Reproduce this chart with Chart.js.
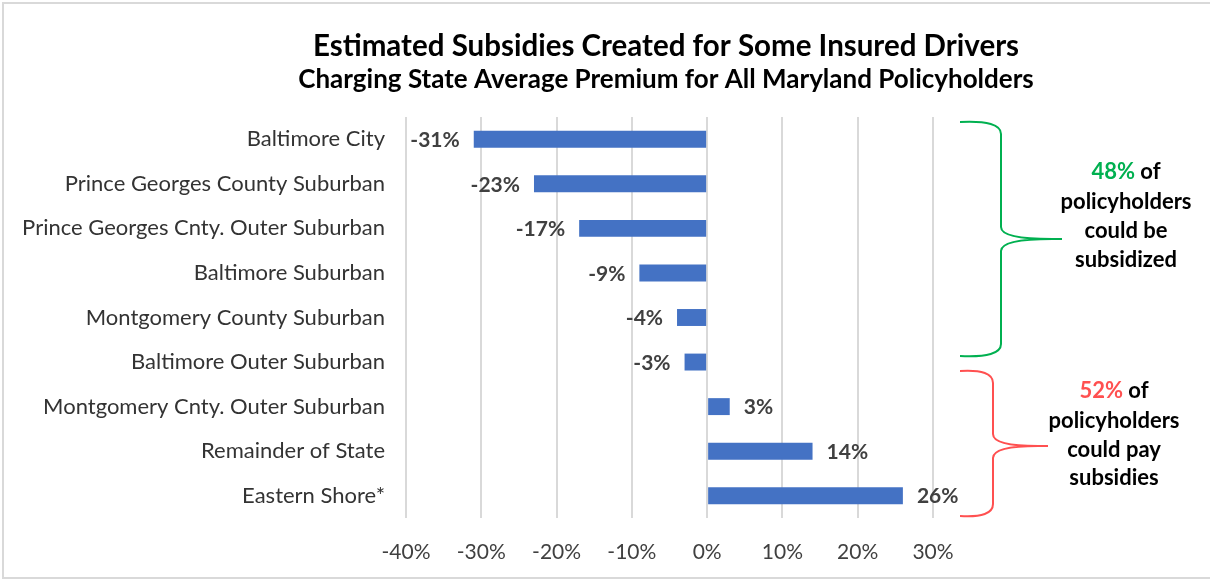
<html>
<head>
  <meta charset="utf-8">
  <title>Estimated Subsidies</title>
  <script src="https://cdn.jsdelivr.net/npm/chart.js@4.4.1/dist/chart.umd.min.js"></script>
  <style>
    body { margin: 0; background: #fff; }
    #wrap { width: 1210px; height: 580px; position: relative; }
  </style>
</head>
<body>
<div id="wrap"><canvas id="myChart" width="1210" height="580"></canvas></div>

<script>
  // data
  var regions = [
    "Baltimore City",
    "Prince Georges County Suburban",
    "Prince Georges Cnty. Outer Suburban",
    "Baltimore Suburban",
    "Montgomery County Suburban",
    "Baltimore Outer Suburban",
    "Montgomery Cnty. Outer Suburban",
    "Remainder of State",
    "Eastern Shore*"
  ];
  var subsidyPct = [-31, -23, -17, -9, -4, -3, 3, 14, 26];

  var titleText = "Estimated Subsidies Created for Some Insured Drivers";
  var subtitleText = "Charging State Average Premium for All Maryland Policyholders";
  var greenNote = ["48%", " of", "policyholders", "could be", "subsidized"];
  var redNote = ["52%", " of", "policyholders", "could pay", "subsidies"];

  var FONT = "Lato, 'Open Sans', sans-serif";

  // title, value labels, braces and side notes
  var extras = {
    id: 'extras',
    afterDatasetsDraw: function (chart) {
      var c = chart.ctx;
      var meta = chart.getDatasetMeta(0);
      c.save();

      // value labels
      c.font = "bold 21px " + FONT;
      c.fillStyle = "#404040";
      c.textBaseline = "middle";
      meta.data.forEach(function (bar, i) {
        var v = subsidyPct[i];
        if (v < 0) {
          c.textAlign = "right";
          c.fillText(v + "%", bar.x - 14, bar.y + 1);
        } else {
          c.textAlign = "left";
          c.fillText(v + "%", bar.x + 14, bar.y + 1);
        }
      });

      // titles
      c.fillStyle = "#000";
      c.textAlign = "center";
      c.font = "bold 29.5px " + FONT;
      c.fillText(titleText, 666, 46);
      c.font = "bold 26px " + FONT;
      c.fillText(subtitleText, 666, 80);

      // braces
      function brace(x0, spine, tip, top, mid, bottom, color) {
        var r = 12;
        c.strokeStyle = color;
        c.lineWidth = 2;
        c.beginPath();
        c.moveTo(x0, top);
        c.quadraticCurveTo(spine, top - 2, spine, top + r);
        c.lineTo(spine, mid - r);
        c.quadraticCurveTo(spine, mid, tip - 10, mid);
        c.lineTo(tip, mid);
        c.moveTo(tip - 10, mid);
        c.quadraticCurveTo(spine, mid, spine, mid + r);
        c.lineTo(spine, bottom - r);
        c.quadraticCurveTo(spine, bottom + 2, x0, bottom);
        c.stroke();
      }
      brace(960, 1001, 1062, 122, 239, 356, "#00B050");
      brace(960, 993, 1048, 371, 446, 516, "#FF5050");

      // notes
      function note(lines, cx, ys, color) {
        c.font = "bold 22px " + FONT;
        var w1 = c.measureText(lines[0]).width;
        var w2 = c.measureText(lines[1]).width;
        var start = cx - (w1 + w2) / 2;
        c.textAlign = "left";
        c.fillStyle = color;
        c.fillText(lines[0], start, ys[0]);
        c.fillStyle = "#000";
        c.fillText(lines[1], start + w1, ys[0]);
        c.textAlign = "center";
        for (var k = 2; k < lines.length; k++) {
          c.fillText(lines[k], cx, ys[k - 1]);
        }
      }
      note(greenNote, 1126, [172, 202, 231, 260], "#00B050");
      note(redNote, 1114, [391, 421, 450, 478], "#FF5050");

      // outer frame
      c.strokeStyle = "#d9d9d9";
      c.lineWidth = 2;
      c.strokeRect(3, 3, 1220, 575);
      c.restore();
    }
  };

  var ctx = document.getElementById('myChart').getContext('2d');
  var chart = new Chart(ctx, {
    type: "bar",
    data: {
      labels: regions,
      datasets: [
        {
          data: subsidyPct,
          backgroundColor: "#4472C4",
          borderWidth: 0,
          barPercentage: 0.38,
          categoryPercentage: 1
        }
      ]
    },
    options: {
      indexAxis: 'y',
      responsive: false,
      animation: false,
      layout: { padding: { left: 0, right: 277, top: 117, bottom: 0 } },
      plugins: {
        legend: { display: false },
        tooltip: { enabled: false }
      },
      scales: {
        x: {
          min: -40,
          max: 30,
          border: { display: false },
          grid: { color: "#d9d9d9", lineWidth: 2, drawTicks: false },
          ticks: {
            stepSize: 10,
            padding: 22,
            color: "#404040",
            font: { family: FONT, size: 21 },
            callback: function (v) { return v + "%"; }
          },
          afterFit: function (s) { s.height = 62; }
        },
        y: {
          border: { display: false },
          grid: { display: false, drawTicks: false },
          ticks: {
            padding: 21,
            color: "#333333",
            font: { family: FONT, size: 22 }
          },
          afterFit: function (s) { s.width = 406; }
        }
      }
    },
    plugins: [extras]
  });
</script>
</body>
</html>
